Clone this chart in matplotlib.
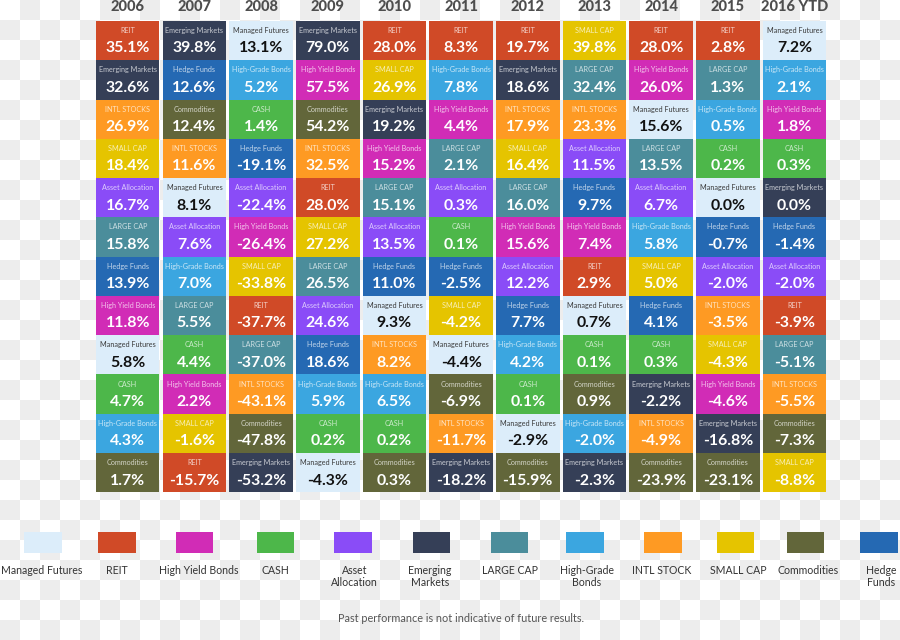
import numpy as np
import matplotlib.pyplot as plt

plt.rcParams['font.family'] = ['Lato', 'DejaVu Sans']

years = ["2006", "2007", "2008", "2009", "2010", "2011",
         "2012", "2013", "2014", "2015", "2016 YTD"]

# asset classes ranked best -> worst for each year, with the returns (%)
rank_2006 = ["REIT", "EM", "INTL", "SMALL", "AA", "LARGE", "HF", "HY", "MF", "CASH", "HG", "COM"]
ret_2006 = [35.1, 32.6, 26.9, 18.4, 16.7, 15.8, 13.9, 11.8, 5.8, 4.7, 4.3, 1.7]

rank_2007 = ["EM", "HF", "COM", "INTL", "MF", "AA", "HG", "LARGE", "CASH", "HY", "SMALL", "REIT"]
ret_2007 = [39.8, 12.6, 12.4, 11.6, 8.1, 7.6, 7.0, 5.5, 4.4, 2.2, -1.6, -15.7]

rank_2008 = ["MF", "HG", "CASH", "HF", "AA", "HY", "SMALL", "REIT", "LARGE", "INTL", "COM", "EM"]
ret_2008 = [13.1, 5.2, 1.4, -19.1, -22.4, -26.4, -33.8, -37.7, -37.0, -43.1, -47.8, -53.2]

rank_2009 = ["EM", "HY", "COM", "INTL", "REIT", "SMALL", "LARGE", "AA", "HF", "HG", "CASH", "MF"]
ret_2009 = [79.0, 57.5, 54.2, 32.5, 28.0, 27.2, 26.5, 24.6, 18.6, 5.9, 0.2, -4.3]

rank_2010 = ["REIT", "SMALL", "EM", "HY", "LARGE", "AA", "HF", "MF", "INTL", "HG", "CASH", "COM"]
ret_2010 = [28.0, 26.9, 19.2, 15.2, 15.1, 13.5, 11.0, 9.3, 8.2, 6.5, 0.2, 0.3]

rank_2011 = ["REIT", "HG", "HY", "LARGE", "AA", "CASH", "HF", "SMALL", "MF", "COM", "INTL", "EM"]
ret_2011 = [8.3, 7.8, 4.4, 2.1, 0.3, 0.1, -2.5, -4.2, -4.4, -6.9, -11.7, -18.2]

rank_2012 = ["REIT", "EM", "INTL", "SMALL", "LARGE", "HY", "AA", "HF", "HG", "CASH", "MF", "COM"]
ret_2012 = [19.7, 18.6, 17.9, 16.4, 16.0, 15.6, 12.2, 7.7, 4.2, 0.1, -2.9, -15.9]

rank_2013 = ["SMALL", "LARGE", "INTL", "AA", "HF", "HY", "REIT", "MF", "CASH", "COM", "HG", "EM"]
ret_2013 = [39.8, 32.4, 23.3, 11.5, 9.7, 7.4, 2.9, 0.7, 0.1, 0.9, -2.0, -2.3]

rank_2014 = ["REIT", "HY", "MF", "LARGE", "AA", "HG", "SMALL", "HF", "CASH", "EM", "INTL", "COM"]
ret_2014 = [28.0, 26.0, 15.6, 13.5, 6.7, 5.8, 5.0, 4.1, 0.3, -2.2, -4.9, -23.9]

rank_2015 = ["REIT", "LARGE", "HG", "CASH", "MF", "HF", "AA", "INTL", "SMALL", "HY", "EM", "COM"]
ret_2015 = [2.8, 1.3, 0.5, 0.2, 0.0, -0.7, -2.0, -3.5, -4.3, -4.6, -16.8, -23.1]

rank_2016 = ["MF", "HG", "HY", "CASH", "EM", "HF", "AA", "REIT", "LARGE", "INTL", "COM", "SMALL"]
ret_2016 = [7.2, 2.1, 1.8, 0.3, 0.0, -1.4, -2.0, -3.9, -5.1, -5.5, -7.3, -8.8]

ranks = [rank_2006, rank_2007, rank_2008, rank_2009, rank_2010, rank_2011,
         rank_2012, rank_2013, rank_2014, rank_2015, rank_2016]
rets = [ret_2006, ret_2007, ret_2008, ret_2009, ret_2010, ret_2011,
        ret_2012, ret_2013, ret_2014, ret_2015, ret_2016]

cell_names = {"REIT": "REIT", "EM": "Emerging Markets", "INTL": "INTL STOCKS",
              "SMALL": "SMALL CAP", "AA": "Asset Allocation", "LARGE": "LARGE CAP",
              "HF": "Hedge Funds", "HY": "High Yield Bonds", "MF": "Managed Futures",
              "CASH": "CASH", "HG": "High-Grade Bonds", "COM": "Commodities"}

colors = {"REIT": "#D04A27", "EM": "#353F57", "INTL": "#FE9A23", "SMALL": "#E5C400",
          "AA": "#8A4CF7", "LARGE": "#4B8D9B", "HF": "#2569B3", "HY": "#D12CB6",
          "MF": "#DCEDFA", "CASH": "#4DB74A", "HG": "#3BA6E0", "COM": "#62663A"}

legend_keys = ["MF", "REIT", "HY", "CASH", "AA", "EM", "LARGE", "HG", "INTL", "SMALL", "COM", "HF"]
legend_labels = ["Managed Futures", "REIT", "High Yield Bonds", "CASH", "Asset\nAllocation",
                 "Emerging\nMarkets", "LARGE CAP", "High-Grade\nBonds", "INTL STOCK",
                 "SMALL CAP", "Commodities", "Hedge\nFunds"]
legend_x = [42.8, 117.2, 194.5, 275.5, 353.2, 431.5, 509.5, 584.8, 663.2, 735.5, 805.5, 878.8]
legend_tx = [41.5, 117.3, 198.7, 275.8, 354.3, 430.0, 510.5, 587.0, 661.7, 738.0, 808.0, 881.0]

W, H = 900, 640
fig = plt.figure(figsize=(9, 6.4), dpi=100)

# checkerboard background (transparent png look)
bg = fig.add_axes([0, 0, 1, 1])
rr, cc = np.mgrid[0:H // 20, 0:W // 20]
bg.imshow((rr + cc) % 2, cmap=plt.matplotlib.colors.ListedColormap(["#FFFFFF", "#EDEDED"]),
          extent=(0, W, H, 0), interpolation="nearest", aspect="auto")
bg.set_xlim(0, W)
bg.set_ylim(H, 0)
bg.axis("off")

# main grid
left, right, top, bottom = 94.4, 827.8, 21.0, 492.3
ax = fig.add_axes([left / W, 1 - bottom / H, (right - left) / W, (bottom - top) / H])
ax.patch.set_alpha(0)
n_rows = 12
for i, (rank, ret) in enumerate(zip(ranks, rets)):
    rows = np.arange(n_rows)
    ax.bar(np.full(n_rows, i), np.ones(n_rows), bottom=rows - 0.5, width=0.9525,
           color=[colors[k] for k in rank], linewidth=0)
    for j, (k, v) in enumerate(zip(rank, ret)):
        if k == "MF":
            lc, vc = "#3A3A3A", "#111111"
        else:
            lc, vc = (1, 1, 1, 0.72), "white"
        ax.text(i, j - 0.255, cell_names[k], ha="center", va="center",
                fontsize=5.2, color=lc)
        ax.text(i, j + 0.2, f"{v:.1f}%", ha="center", va="center",
                fontsize=11.4, fontweight="bold", color=vc)
    ax.text(i, -0.86, years[i], ha="center", va="center", fontsize=10.5,
            fontweight="black", color="#4E4E4E", clip_on=False)
ax.set_xlim(-0.5, len(years) - 0.5)
ax.set_ylim(n_rows - 0.5, -0.5)
ax.axis("off")

# legend
lg = fig.add_axes([0, 0, 1, 1])
lg.patch.set_alpha(0)
lg.set_xlim(0, W)
lg.set_ylim(H, 0)
lg.bar(legend_x, 21.6, bottom=531.7, width=37.7,
       color=[colors[k] for k in legend_keys], linewidth=0)
for tx, lab in zip(legend_tx, legend_labels):
    lg.text(tx, 564.5, lab, ha="center", va="top", fontsize=7.6,
            color="#333333", linespacing=1.2)
lg.text(460.7, 618, "Past performance is not indicative of future results.",
        ha="center", va="center", fontsize=7.8, color="#555555")
lg.axis("off")

fig.savefig("out.png", dpi=100)
